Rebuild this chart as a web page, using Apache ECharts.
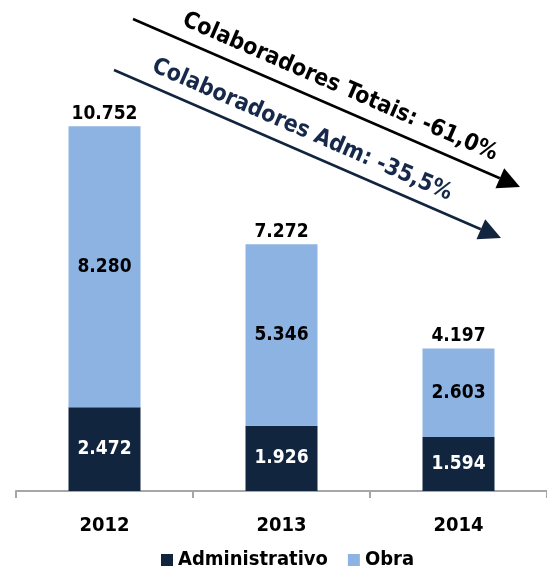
<!DOCTYPE html>
<html>
<head>
<meta charset="utf-8">
<script src="https://cdn.jsdelivr.net/npm/echarts@6/dist/echarts.min.js"></script>
<style>
  html, body { margin: 0; padding: 0; background: #ffffff; }
  #chart { width: 547px; height: 571px; }
</style>
</head>
<body>
<div id="chart"></div>
<script>
// Workforce by year, split into administrative and field staff
const years = ['2012', '2013', '2014'];
const administrativo = [2472, 1926, 1594];
const obra = [8280, 5346, 2603];
const totais = [10752, 7272, 4197];

const NAVY = '#12253f';
const LIGHT = '#8db3e2';
const FONT = '"DejaVu Sans Condensed", "DejaVu Sans", Verdana, sans-serif';

// Brazilian style thousands separator: 10752 -> "10.752"
function fmt(v) {
  return String(v).replace(/\B(?=(\d{3})+(?!\d))/g, '.');
}

// Straight arrow with a filled triangular head
function arrow(x1, y1, x2, y2, color) {
  const dx = x2 - x1, dy = y2 - y1;
  const len = Math.sqrt(dx * dx + dy * dy);
  const ux = dx / len, uy = dy / len;
  const headLen = 22, headHalf = 11;
  const bx = x2 - ux * headLen, by = y2 - uy * headLen;
  return [
    {
      type: 'line',
      shape: { x1: x1, y1: y1, x2: bx, y2: by },
      style: { stroke: color, lineWidth: 2.5 }
    },
    {
      type: 'polygon',
      shape: { points: [[x2, y2], [bx - uy * headHalf, by + ux * headHalf], [bx + uy * headHalf, by - ux * headHalf]] },
      style: { fill: color }
    }
  ];
}

const angle = -Math.atan2(168, 387);

const chart = echarts.init(document.getElementById('chart'), null, { renderer: 'canvas' });

chart.setOption({
  animation: false,
  backgroundColor: '#ffffff',
  // the axis runs past the right edge of the canvas
  grid: { left: 16, right: -5, top: 16, bottom: 80 },
  legend: {
    data: ['Administrativo', 'Obra'],
    top: 550,
    left: 161,
    padding: 0,
    icon: 'rect',
    itemWidth: 12,
    itemHeight: 12,
    itemGap: 20,
    textStyle: { fontFamily: FONT, fontWeight: 'bold', fontSize: 20, color: '#000' }
  },
  xAxis: {
    type: 'category',
    data: years,
    axisLine: { lineStyle: { color: '#a6a6a6', width: 2 } },
    axisTick: { show: true, length: 7, lineStyle: { color: '#a6a6a6', width: 2 } },
    axisLabel: { margin: 25, fontFamily: FONT, fontWeight: 'bold', fontSize: 20, color: '#000' }
  },
  yAxis: {
    type: 'value',
    min: 0,
    max: 14000,
    show: false,
    splitLine: { show: false }
  },
  series: [
    {
      name: 'Administrativo',
      type: 'bar',
      stack: 'total',
      barWidth: 72,
      data: administrativo,
      itemStyle: { color: NAVY },
      label: {
        show: true,
        position: 'inside',
        formatter: p => fmt(p.value),
        fontFamily: FONT, fontWeight: 'bold', fontSize: 19, color: '#ffffff'
      }
    },
    {
      name: 'Obra',
      type: 'bar',
      stack: 'total',
      barWidth: 72,
      data: obra,
      itemStyle: { color: LIGHT },
      label: {
        show: true,
        position: 'inside',
        formatter: p => fmt(p.value),
        fontFamily: FONT, fontWeight: 'bold', fontSize: 19, color: '#000000'
      }
    },
    {
      // total headcount printed above each stack
      name: 'Total',
      type: 'scatter',
      data: totais,
      symbol: 'circle',
      symbolSize: 0,
      itemStyle: { color: 'rgba(0,0,0,0)', opacity: 1 },
      silent: true,
      z: 5,
      label: {
        show: true,
        position: 'top',
        distance: 3,
        opacity: 1,
        formatter: p => fmt(p.value),
        fontFamily: FONT, fontWeight: 'bold', fontSize: 19, color: '#000000'
      }
    }
  ],
  graphic: [
    ...arrow(133, 19, 520, 187, '#000000'),
    ...arrow(114, 70, 501, 238, NAVY),
    {
      type: 'text',
      x: 340, y: 87,
      rotation: angle,
      style: {
        text: 'Colaboradores Totais: -61,0%',
        fontFamily: FONT, fontWeight: 'bold', fontSize: 23,
        fill: '#000000', textAlign: 'center', textVerticalAlign: 'middle'
      }
    },
    {
      type: 'text',
      x: 302, y: 130,
      rotation: angle,
      style: {
        text: 'Colaboradores Adm: -35,5%',
        fontFamily: FONT, fontWeight: 'bold', fontSize: 23,
        fill: '#17294a', textAlign: 'center', textVerticalAlign: 'middle'
      }
    }
  ]
});
</script>
</body>
</html>
